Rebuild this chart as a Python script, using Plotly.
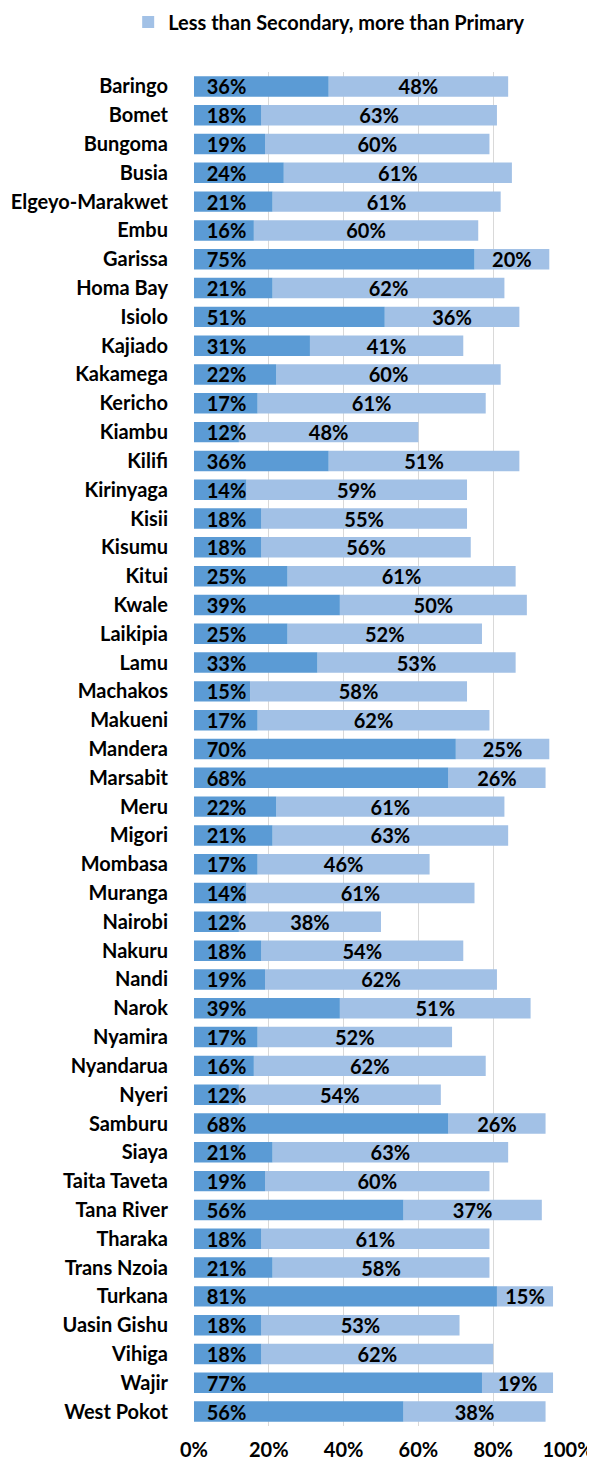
import plotly.graph_objects as go

counties = ["Baringo", "Bomet", "Bungoma", "Busia", "Elgeyo-Marakwet", "Embu", "Garissa",
            "Homa Bay", "Isiolo", "Kajiado", "Kakamega", "Kericho", "Kiambu", "Kilifi",
            "Kirinyaga", "Kisii", "Kisumu", "Kitui", "Kwale", "Laikipia", "Lamu", "Machakos",
            "Makueni", "Mandera", "Marsabit", "Meru", "Migori", "Mombasa", "Muranga", "Nairobi",
            "Nakuru", "Nandi", "Narok", "Nyamira", "Nyandarua", "Nyeri", "Samburu", "Siaya",
            "Taita Taveta", "Tana River", "Tharaka", "Trans Nzoia", "Turkana", "Uasin Gishu",
            "Vihiga", "Wajir", "West Pokot"]

primary_or_less = [36, 18, 19, 24, 21, 16, 75, 21, 51, 31, 22, 17, 12, 36, 14, 18, 18, 25, 39,
                   25, 33, 15, 17, 70, 68, 22, 21, 17, 14, 12, 18, 19, 39, 17, 16, 12, 68, 21,
                   19, 56, 18, 21, 81, 18, 18, 77, 56]

less_than_secondary = [48, 63, 60, 61, 61, 60, 20, 62, 36, 41, 60, 61, 48, 51, 59, 55, 56, 61,
                       50, 52, 53, 58, 62, 25, 26, 61, 63, 46, 61, 38, 54, 62, 51, 52, 62, 54,
                       26, 63, 60, 37, 61, 58, 15, 53, 62, 19, 38]

x_ticks = [0, 0.2, 0.4, 0.6, 0.8, 1.0]
x_tick_labels = ["0%", "20%", "40%", "60%", "80%", "100%"]

FONT = "Lato"
NB = "\u00a0"
LBL = dict(family=FONT, size=20, color="#000000", weight="bold")

fig = go.Figure()
# light segment drawn first (starting where the dark segment ends)
fig.add_trace(go.Bar(
    y=counties, x=[v / 100 for v in less_than_secondary],
    base=[v / 100 for v in primary_or_less], orientation="h",
    name="Less than Secondary, more than Primary",
    marker=dict(color="#A2C1E6", line=dict(width=0)),
    text=[f"{v}%" for v in less_than_secondary],
    textposition="inside", insidetextanchor="middle", textangle=0,
    constraintext="none", textfont=LBL,
    hoverinfo="skip",
))
fig.add_trace(go.Bar(
    y=counties, x=[v / 100 for v in primary_or_less], orientation="h",
    name="Primary or less", showlegend=False,
    marker=dict(color="#5B9BD5", line=dict(width=0)),
    text=[NB * 2 + f"{v}%" for v in primary_or_less],
    textposition="inside", insidetextanchor="start", textangle=0,
    constraintext="none", cliponaxis=False, textfont=LBL,
    hoverinfo="skip",
))

fig.update_layout(
    width=587, height=1455,
    barmode="overlay", bargap=0.29,
    plot_bgcolor="white", paper_bgcolor="white",
    margin=dict(l=186, r=27, t=64, b=37, autoexpand=False),
    font=dict(family=FONT, color="#000000"),
    showlegend=True,
    legend=dict(orientation="h", x=-0.176, xanchor="left",
                y=0.9904, yanchor="middle", yref="container",
                font=dict(family=FONT, size=20, color="#000000", weight="bold"),
                bgcolor="rgba(0,0,0,0)"),
)

fig.update_xaxes(
    range=[0, 1.0], tickvals=x_ticks, ticktext=x_tick_labels,
    showgrid=True, gridcolor="#D9D9D9", gridwidth=1,
    zeroline=False, showline=False, automargin=False,
    ticks="outside", ticklen=6, tickcolor="rgba(0,0,0,0)",
    tickfont=LBL,
)
fig.update_yaxes(
    autorange="reversed", showgrid=False, zeroline=False, showline=False,
    automargin=False, ticklabelstandoff=25,
    tickfont=LBL,
)

fig.write_html("out.html")
